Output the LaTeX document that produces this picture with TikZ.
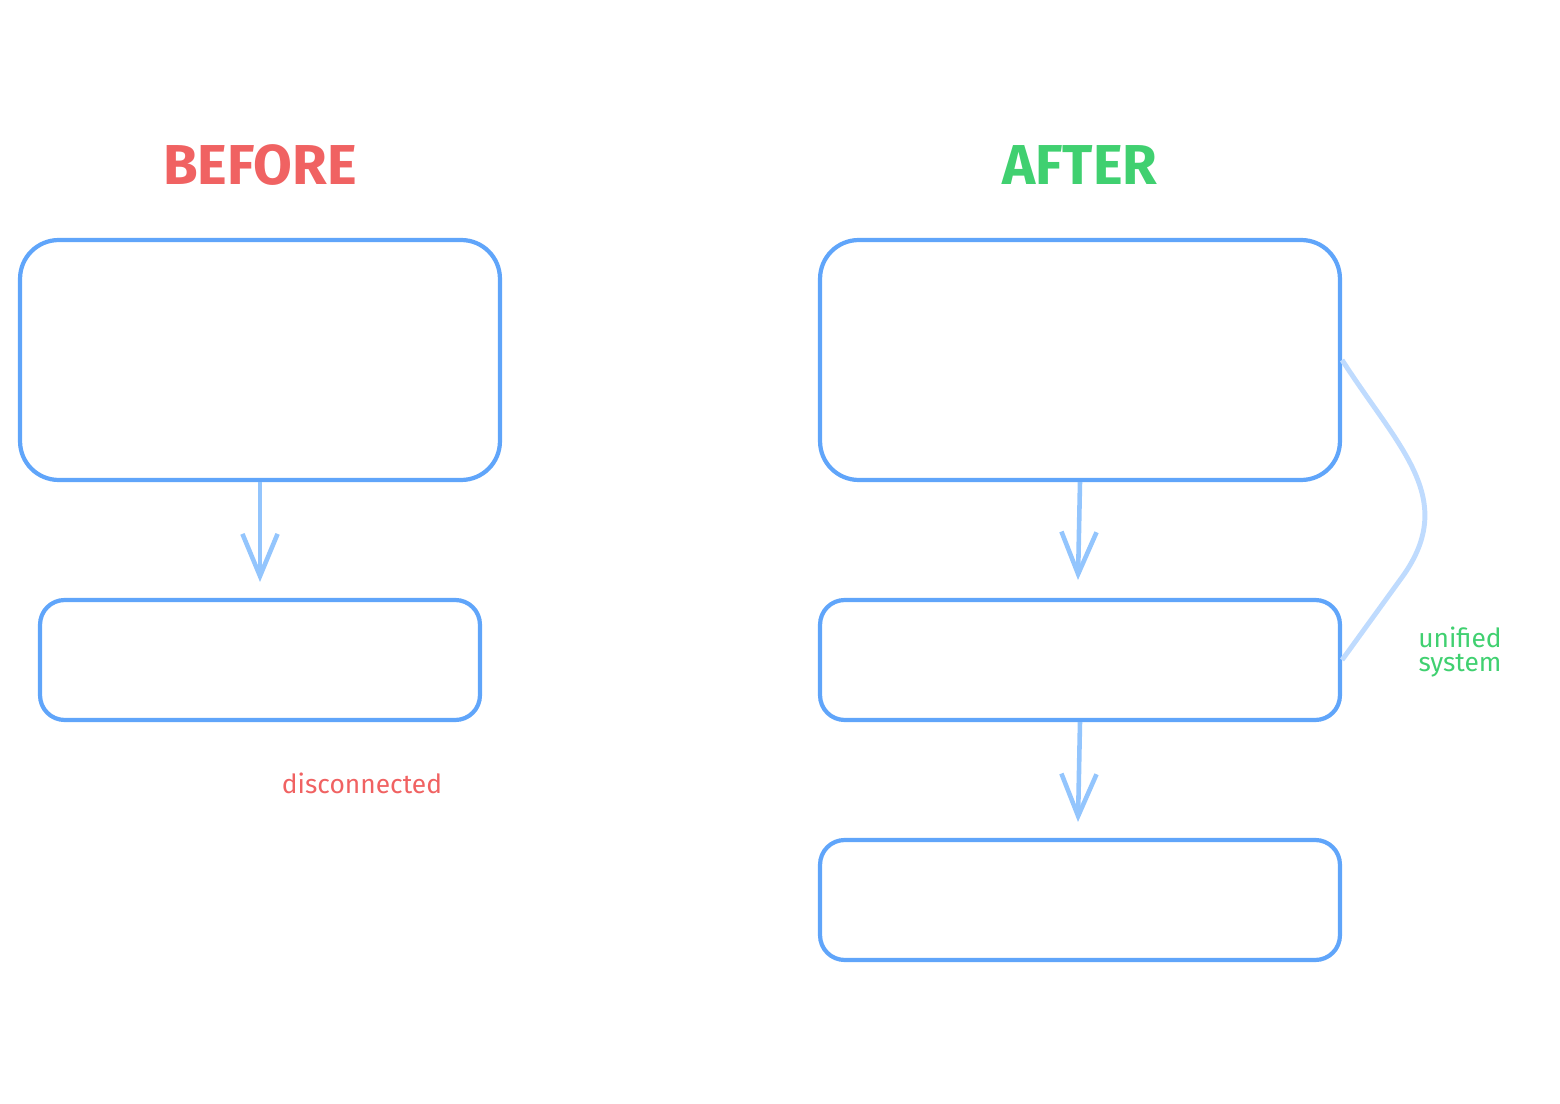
\documentclass[tikz,border=0pt]{standalone}
\usepackage{fontspec}
\setmainfont{Fira Sans}
\usetikzlibrary{arrows.meta}
\definecolor{boxblue}{HTML}{60A5FA}
\definecolor{arrblue}{HTML}{93C5FD}
\definecolor{linkblue}{HTML}{BFDBFE}
\definecolor{redtxt}{HTML}{F06262}
\definecolor{greentxt}{HTML}{40D070}
\tikzset{box/.style={rectangle, rounded corners=22pt, draw=boxblue, line width=2.4pt}}
\tikzset{flow/.style={draw=arrblue, line width=2.6pt, -{Straight Barb[length=24pt,width=20pt]}}}
\tikzset{title/.style={font=\fontsize{32}{34}\selectfont\bfseries}}
\tikzset{note/.style={font=\fontsize{15}{17}\selectfont, align=center}}

\begin{document}
\begin{tikzpicture}[x=0.02cm, y=-0.02cm]

    \useasboundingbox (0,0) rectangle (1560,1104);

    \node[title, text=redtxt]   (before) at (260,165) {BEFORE};
    \node[title, text=greentxt] (after)  at (1080,165) {AFTER};

    \node[box, minimum width=9.6cm, minimum height=4.8cm]  (lbig)   at (260,360) {};
    \node[box, minimum width=8.8cm, minimum height=2.4cm, rounded corners=14pt] (lsmall) at (260,660) {};

    \node[box, minimum width=10.4cm, minimum height=4.8cm] (rbig) at (1080,360) {};
    \node[box, minimum width=10.4cm, minimum height=2.4cm, rounded corners=14pt] (rmid) at (1080,660) {};
    \node[box, minimum width=10.4cm, minimum height=2.4cm, rounded corners=14pt] (rbot) at (1080,900) {};

    \draw[flow] (lbig.south) -- (260,582);
    \draw[flow] (rbig.south) -- (1078,580);
    \draw[flow] (rmid.south) -- (1078,822);

    \draw[linkblue, line width=2.8pt] (rbig.east) .. controls (1400,450) and (1460,500) .. (1400,580) -- (rmid.east);

    \node[note, text=redtxt]   (disc) at (362,783) {disconnected};
    \node[note, text=greentxt] (unif) at (1460,652) {unified\\[-3pt]system};

  \end{tikzpicture}
\end{document}
